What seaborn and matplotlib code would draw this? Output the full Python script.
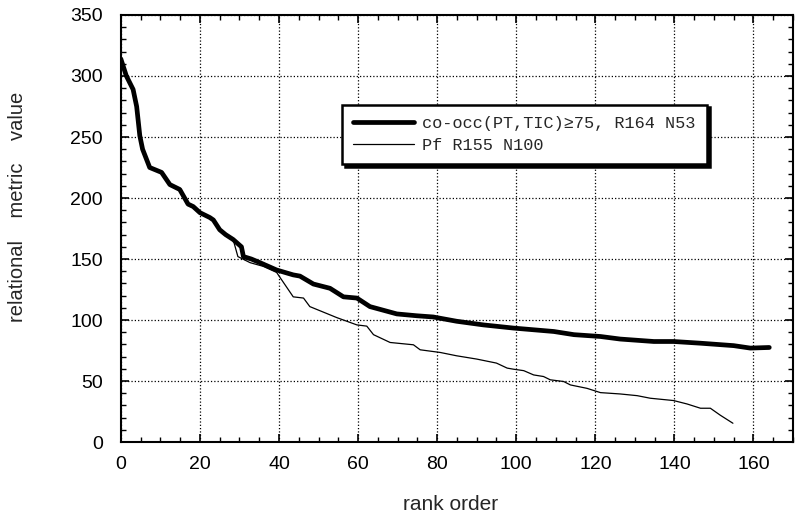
import numpy as np
import pandas as pd
import matplotlib
matplotlib.use("Agg")
import matplotlib.pyplot as plt
from matplotlib.ticker import MultipleLocator
import seaborn as sns

# ── data ─────────────────────────────────────────────────────
cooc_rank = [0, 1.4, 3.1, 4, 4.8, 5.5, 7.3, 10.3, 12.4, 14.9, 17, 18.3, 20, 22.5,
             23.4, 25, 26.5, 28.4, 30.5, 31, 33, 35.2, 39.4, 43.6, 45.3, 48.7,
             52.9, 56.3, 59.7, 63, 66.4, 69.8, 74.8, 79, 84.9, 91.7, 99.3, 104.4,
             109.5, 114.6, 121.3, 126.3, 134.8, 139.8, 146.6, 155, 159.2, 164]
cooc_value = [314, 300, 289, 275, 251, 240, 225, 221, 211, 207, 195, 193, 188, 184,
              182, 174, 170, 166, 160, 152, 150, 147, 141, 137, 136, 129.5,
              126, 119, 118, 111, 108, 105, 103.5, 102.5, 99, 96, 93.4, 92,
              90.6, 88, 86.5, 84.4, 82.4, 82.4, 81, 79, 77, 77.5]

pf_rank = [0, 1.4, 3.1, 4, 4.8, 5.5, 7.3, 10.3, 12.4, 14.9, 17, 18.3, 20, 22.5,
           23.4, 25, 26.5, 28.4, 29.6, 32.7, 36, 39.4, 43.6, 46.2, 47.8, 54.6,
           59.7, 62.2, 63.9, 68.1, 74, 75.7, 80.8, 84.9, 90, 95, 97.7, 99.3,
           101.9, 104.4, 106.9, 108.6, 112, 113.7, 117.9, 121.3, 126.3, 130.6,
           133.9, 139.8, 143.2, 146.6, 149.1, 151.6, 154.8]
pf_value = [314, 300, 289, 275, 251, 240, 225, 221, 211, 207, 195, 193, 188, 184,
            182, 174, 170, 166, 152, 147, 144, 139, 119, 118, 111, 102,
            96, 95, 88, 81.6, 79.7, 75.6, 73.4, 70.7, 68, 64.7, 60.6, 59.7,
            58.5, 55, 53.7, 51, 49.6, 46.8, 44, 40.5, 39.4, 38,
            35.9, 34, 31.2, 27.7, 27.7, 22, 15.4]

label_cooc = "co-occ(PT,TIC)\u226575, R164 N53"
label_pf = "Pf R155 N100"

sns.set_style("ticks")
plt.rcParams['font.family'] = ['Liberation Sans', 'DejaVu Sans']

fig = plt.figure(figsize=(7.95, 5.17), dpi=100)
ax = fig.add_axes([0.152, 0.145, 0.8455, 0.826])

sns.lineplot(x=cooc_rank, y=cooc_value, ax=ax, color='black', lw=3.4,
             label=label_cooc, estimator=None, sort=False)
sns.lineplot(x=pf_rank, y=pf_value, ax=ax, color='black', lw=0.9,
             label=label_pf, estimator=None, sort=False)

# ── axes look: inward ticks on all sides, dotted grid ────────
ax.set_xlim(0, 170)
ax.set_ylim(0, 350)
ax.xaxis.set_major_locator(MultipleLocator(20))
ax.xaxis.set_minor_locator(MultipleLocator(5))
ax.yaxis.set_major_locator(MultipleLocator(50))
ax.yaxis.set_minor_locator(MultipleLocator(10))
ax.tick_params(which='both', direction='in', top=True, right=True,
               labelsize=14, colors='black')
ax.tick_params(axis='x', pad=10)
ax.tick_params(axis='y', pad=13)
ax.tick_params(which='major', length=6, width=1.2)
ax.tick_params(which='minor', length=3.5, width=1)
ax.set_xticks(range(0, 161, 20))
ax.grid(True, which='major', ls=':', color='black', lw=0.9)
for s in ax.spines.values():
    s.set_linewidth(1.5)
    s.set_color('black')

ax.set_xlabel("rank order", fontsize=15)
ax.set_ylabel("relational    metric    value", fontsize=14.5)
ax.xaxis.set_label_coords(0.49, -0.125)
ax.yaxis.set_label_coords(-0.14, 0.55)

leg = ax.legend(loc='upper left', bbox_to_anchor=(0.329, 0.79), borderaxespad=0,
                fancybox=False, shadow={'color': 'black', 'alpha': 1},
                framealpha=1, edgecolor='black', handlelength=3.6,
                prop={'family': ['Liberation Mono', 'DejaVu Sans Mono'], 'size': 12.2},
                labelspacing=0.45, borderpad=0.65, handletextpad=0.5)
leg.get_frame().set_linewidth(1.8)

fig.savefig("out.png", dpi=100)
